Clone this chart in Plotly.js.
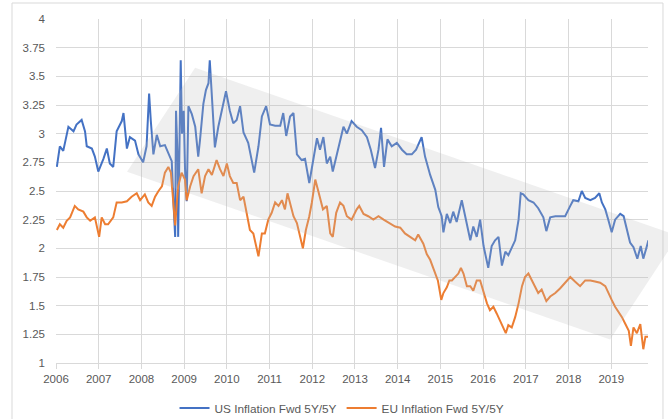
<!DOCTYPE html>
<html>
<head>
<meta charset="utf-8">
<script src="https://cdn.plot.ly/plotly-3.0.1.min.js"></script>
<style>
html,body{margin:0;padding:0;background:#fff;}
#chart{width:668px;height:419px;}
</style>
</head>
<body>
<div id="chart"></div>
<script>
var usX = [2006.02,2006.09,2006.17,2006.29,2006.41,2006.48,2006.60,2006.68,2006.72,2006.84,2006.91,2006.99,
2007.11,2007.19,2007.26,2007.34,2007.42,2007.54,2007.58,2007.66,2007.73,2007.85,2007.93,
2008.04,2008.12,2008.18,2008.22,2008.28,2008.36,2008.44,2008.55,2008.63,2008.71,2008.75,2008.79,2008.81,2008.85,2008.86,2008.92,2008.95,2008.99,
2009.02,2009.06,2009.10,2009.18,2009.26,2009.33,2009.37,2009.45,2009.51,2009.57,2009.60,2009.65,2009.72,2009.80,2009.88,2009.98,
2010.07,2010.15,2010.23,2010.31,2010.39,2010.50,2010.64,2010.74,2010.82,2010.92,
2011.01,2011.13,2011.25,2011.32,2011.39,2011.48,2011.56,2011.64,2011.75,2011.83,2011.93,
2012.03,2012.11,2012.18,2012.26,2012.34,2012.42,2012.48,2012.56,2012.65,2012.73,2012.81,2012.92,
2013.04,2013.16,2013.28,2013.37,2013.47,2013.55,2013.61,2013.68,2013.76,2013.86,2013.98,
2014.10,2014.21,2014.33,2014.43,2014.56,2014.64,2014.76,2014.88,2014.95,
2015.03,2015.07,2015.15,2015.23,2015.30,2015.38,2015.50,2015.58,2015.70,2015.77,2015.85,2015.93,
2016.01,2016.12,2016.20,2016.28,2016.36,2016.44,2016.52,2016.59,2016.67,2016.75,2016.83,2016.88,2016.94,
2017.06,2017.18,2017.29,2017.41,2017.48,2017.57,2017.69,2017.80,2017.92,
2018.04,2018.11,2018.23,2018.31,2018.39,2018.51,2018.62,2018.72,2018.78,2018.86,2018.93,
2019.01,2019.09,2019.21,2019.29,2019.37,2019.44,2019.52,2019.61,2019.69,2019.75,2019.82,2019.87];
var usY = [2.71,2.89,2.85,3.06,3.02,3.08,3.12,3.02,2.89,2.87,2.80,2.67,
2.78,2.87,2.74,2.71,3.02,3.11,3.18,2.87,2.97,2.94,2.82,
2.75,2.89,3.35,3.11,2.82,2.99,2.89,2.90,2.83,2.76,2.40,2.10,3.20,2.76,2.10,3.64,3.00,3.20,
2.70,2.41,3.24,3.17,3.06,2.80,2.94,3.26,3.38,3.44,3.64,3.32,2.88,3.06,3.21,3.37,
3.20,3.09,3.12,3.24,3.01,2.92,2.66,2.89,3.15,3.24,
3.08,3.07,3.07,3.18,2.98,3.15,3.18,2.82,2.77,2.78,2.57,
2.77,2.96,2.86,2.97,2.74,2.80,2.67,2.79,2.92,3.06,3.00,3.11,
3.06,3.03,2.97,2.86,2.70,2.86,3.05,2.71,2.95,2.89,2.92,
2.86,2.82,2.82,2.86,2.97,2.80,2.64,2.51,2.36,
2.28,2.14,2.30,2.22,2.32,2.23,2.42,2.27,2.07,2.19,2.10,2.25,
2.02,1.83,2.02,2.07,2.10,1.85,1.97,1.94,2.01,2.07,2.25,2.48,2.47,
2.42,2.40,2.35,2.27,2.15,2.27,2.28,2.28,2.28,
2.37,2.42,2.41,2.50,2.44,2.42,2.44,2.48,2.40,2.34,2.25,
2.14,2.25,2.30,2.28,2.17,2.05,2.01,1.91,2.02,1.91,2.00,2.07];

var euX = [2006.02,2006.09,2006.17,2006.25,2006.33,2006.44,2006.52,2006.64,2006.72,2006.80,2006.91,
2007.01,2007.07,2007.15,2007.22,2007.34,2007.42,2007.54,2007.66,2007.77,2007.89,2007.97,
2008.08,2008.16,2008.24,2008.32,2008.40,2008.48,2008.55,2008.63,2008.69,2008.75,2008.79,2008.83,2008.86,2008.94,
2009.02,2009.06,2009.14,2009.22,2009.33,2009.41,2009.49,2009.57,2009.65,2009.76,2009.84,2009.92,
2010.00,2010.07,2010.15,2010.23,2010.31,2010.39,2010.47,2010.54,2010.62,2010.68,2010.74,2010.82,2010.89,2010.97,
2011.05,2011.13,2011.21,2011.29,2011.36,2011.42,2011.48,2011.56,2011.64,2011.71,2011.78,2011.85,2011.93,2011.99,
2012.07,2012.14,2012.25,2012.34,2012.42,2012.48,2012.56,2012.65,2012.73,2012.81,2012.92,
2013.04,2013.10,2013.20,2013.31,2013.43,2013.55,2013.67,2013.82,2013.94,
2014.06,2014.17,2014.29,2014.41,2014.48,2014.60,2014.68,2014.76,2014.85,2014.94,
2015.02,2015.07,2015.15,2015.21,2015.27,2015.34,2015.42,2015.48,2015.54,2015.62,2015.70,2015.77,2015.85,2015.93,
2016.01,2016.09,2016.16,2016.24,2016.32,2016.40,2016.48,2016.53,2016.59,2016.67,2016.75,2016.83,2016.91,2016.98,
2017.06,2017.14,2017.22,2017.29,2017.37,2017.48,2017.57,2017.69,2017.80,2017.92,
2018.04,2018.15,2018.27,2018.39,2018.51,2018.62,2018.74,2018.86,2018.93,
2019.01,2019.09,2019.17,2019.25,2019.33,2019.41,2019.46,2019.52,2019.60,2019.68,2019.75,2019.80,2019.87];
var euY = [2.16,2.21,2.18,2.24,2.27,2.37,2.34,2.32,2.27,2.24,2.27,
2.10,2.27,2.21,2.21,2.27,2.40,2.40,2.41,2.45,2.48,2.42,
2.47,2.40,2.37,2.45,2.50,2.54,2.66,2.71,2.66,2.37,2.20,2.40,2.54,2.66,
2.60,2.42,2.54,2.63,2.69,2.48,2.63,2.69,2.64,2.77,2.69,2.63,
2.74,2.63,2.57,2.57,2.42,2.45,2.31,2.16,2.13,2.02,1.93,2.13,2.13,2.25,
2.31,2.40,2.37,2.42,2.34,2.48,2.40,2.28,2.22,2.10,2.00,2.16,2.28,2.40,
2.60,2.50,2.34,2.37,2.13,2.10,2.31,2.40,2.37,2.28,2.25,
2.34,2.37,2.30,2.28,2.25,2.28,2.25,2.22,2.19,
2.18,2.13,2.10,2.07,2.12,2.04,1.95,1.90,1.81,1.72,
1.55,1.61,1.66,1.72,1.72,1.75,1.78,1.83,1.78,1.67,1.67,1.63,1.72,1.72,
1.61,1.52,1.46,1.49,1.43,1.37,1.31,1.26,1.33,1.31,1.40,1.52,1.67,1.75,
1.78,1.72,1.67,1.61,1.64,1.54,1.58,1.61,1.65,1.70,
1.75,1.71,1.67,1.72,1.72,1.71,1.70,1.67,1.61,
1.55,1.49,1.45,1.40,1.34,1.28,1.15,1.31,1.26,1.34,1.12,1.23,1.23];

var seriesNames = ["US Inflation Fwd 5Y/5Y", "EU Inflation Fwd 5Y/5Y"];
var xTickVals = [2006,2007,2008,2009,2010,2011,2012,2013,2014,2015,2016,2017,2018,2019];
var xTickText = ["2006","2007","2008","2009","2010","2011","2012","2013","2014","2015","2016","2017","2018","2019"];
var yTickVals = [1,1.25,1.5,1.75,2,2.25,2.5,2.75,3,3.25,3.5,3.75,4];
var yTickText = ["1","1.25","1.5","1.75","2","2.25","2.5","2.75","3","3.25","3.5","3.75","4"];

var fontFam = "Liberation Sans, Arial, sans-serif";
var traces = [
  {x: usX, y: usY, name: seriesNames[0], type: 'scatter', mode: 'lines',
   line: {color: '#4472C4', width: 2}},
  {x: euX, y: euY, name: seriesNames[1], type: 'scatter', mode: 'lines',
   line: {color: '#ED7D31', width: 2}}
];

var layout = {
  width: 668, height: 419,
  margin: {l: 56, r: 20, t: 19, b: 56, autoexpand: false},
  paper_bgcolor: '#ffffff', plot_bgcolor: '#ffffff',
  showlegend: true,
  legend: {orientation: 'h', x: 0.512, xanchor: 'center', xref: 'container',
           y: 0.026, yanchor: 'middle', yref: 'container',
           font: {family: fontFam, size: 11.8, color: '#595959'}, itemwidth: 30, tracegroupgap: 0},
  xaxis: {range: [2006, 2019.86], tickvals: xTickVals, ticktext: xTickText,
          showgrid: true, gridcolor: '#d9d9d9', gridwidth: 1, zeroline: false,
          showline: true, linecolor: '#d9d9d9', linewidth: 1,
          ticks: 'outside', ticklen: 5, tickcolor: '#d9d9d9',
          tickfont: {family: fontFam, size: 11.5, color: '#595959'}, fixedrange: true},
  yaxis: {range: [1, 4], tickvals: yTickVals, ticktext: yTickText,
          showgrid: true, gridcolor: '#d9d9d9', gridwidth: 1, zeroline: false,
          showline: false, ticks: '', ticklabelstandoff: 10,
          tickfont: {family: fontFam, size: 11.5, color: '#595959'}, fixedrange: true},
  shapes: [
    {type: 'path', xref: 'paper', yref: 'paper', layer: 'above',
     path: 'M 0.120 0.556 L 0.235 0.858 L 1.051 0.370 L 0.936 0.068 Z',
     fillcolor: 'rgba(185,185,185,0.23)', line: {width: 0}},
    {type: 'rect', xref: 'paper', yref: 'paper', layer: 'below',
     x0: -0.0743, x1: 1.0253, y0: -0.3, y1: 1.0465,
     fillcolor: 'rgba(0,0,0,0)', line: {color: '#d9d9d9', width: 1}}
  ]
};

Plotly.newPlot('chart', traces, layout, {displayModeBar: false, staticPlot: true});
</script>
</body>
</html>
